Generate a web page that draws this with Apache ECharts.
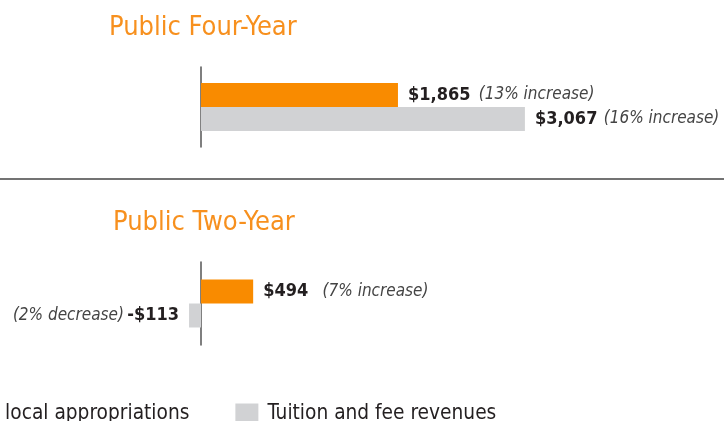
<!DOCTYPE html>
<html>
<head>
<meta charset="utf-8">
<script src="https://cdn.jsdelivr.net/npm/echarts@6/dist/echarts.min.js"></script>
<style>
  html, body { margin: 0; padding: 0; background: #fff; }
  #chart { width: 724px; height: 421px; }
</style>
</head>
<body>
<div id="chart"></div>
<script>
// Change in revenue per student, by sector
const panels = ['Public Four-Year', 'Public Two-Year'];
const seriesNames = ['State and local appropriations', 'Tuition and fee revenues'];
const appropriations = [1865, 494];
const tuition = [3067, -113];
const appropriationNotes = ['(13% increase)', '(7% increase)'];
const tuitionNotes = ['(16% increase)', '(2% decrease)'];

const FONT = '"DejaVu Sans Condensed", "DejaVu Sans", sans-serif';
const ORANGE = '#F98B00';
const GRAY = '#D1D2D4';
const TITLE_ORANGE = '#F7901E';
const TEXT = '#231F20';

// shared dollar scale for both panels, zero sits at x = 201
const X_MIN = -1903, X_MAX = 4952;

// extra space between the dollar figure and its note, per panel [appropriations, tuition]
const noteGap = [[5, 3], [11, 0]];

function money(v) {
  const s = '$' + Math.abs(v).toLocaleString('en-US');
  return v < 0 ? '-' + s : s;
}

function barLabel(value, note, gap) {
  const neg = value < 0;
  return {
    show: true,
    distance: 10,
    position: neg ? 'left' : 'right',
    rich: {
      v: { fontFamily: FONT, fontSize: 18, fontWeight: 'bold', color: TEXT },
      n: { fontFamily: FONT, fontSize: 17, fontStyle: 'italic', color: '#444',
           padding: neg ? [0, gap, 0, 0] : [0, 0, 0, gap] }
    },
    formatter: (q) => q.value < 0
      ? '{n|' + note + '} {v|' + money(q.value) + '}'
      : '{v|' + money(q.value) + '} {n|' + note + '}'
  };
}

const grids = [
  { left: 0, right: 0, top: 67, height: 80 },
  { left: 0, right: 0, top: 262, height: 83 }
];

const xAxes = grids.map((g, i) => ({
  type: 'value', gridIndex: i, min: X_MIN, max: X_MAX, show: false
}));
const yAxes = grids.map((g, i) => ({
  type: 'category', gridIndex: i, data: [panels[i]], inverse: true,
  axisLine: { show: true, onZero: true, lineStyle: { color: '#555', width: 1.5 } },
  axisTick: { show: false }, axisLabel: { show: false }, splitLine: { show: false }
}));

const series = [];
panels.forEach((p, i) => {
  series.push({
    name: seriesNames[0], type: 'bar', xAxisIndex: i, yAxisIndex: i,
    data: [appropriations[i]], barWidth: 24, barGap: '0%',
    itemStyle: { color: ORANGE },
    label: barLabel(appropriations[i], appropriationNotes[i], noteGap[i][0])
  });
  series.push({
    name: seriesNames[1], type: 'bar', xAxisIndex: i, yAxisIndex: i,
    data: [tuition[i]], barWidth: 24, barGap: '0%',
    itemStyle: { color: GRAY },
    label: barLabel(tuition[i], tuitionNotes[i], noteGap[i][1])
  });
});

const titleStyle = { fontFamily: FONT, fontSize: 27, fontWeight: 'normal', color: TITLE_ORANGE };

const chart = echarts.init(document.getElementById('chart'), null, { renderer: 'canvas' });
chart.setOption({
  animation: false,
  backgroundColor: '#fff',
  title: [
    { text: panels[0], left: 104, top: 9, textStyle: titleStyle },
    { text: panels[1], left: 108, top: 204, textStyle: titleStyle }
  ],
  legend: {
    data: seriesNames,
    left: -128, top: 398,
    itemWidth: 23, itemHeight: 20, itemGap: 46,
    icon: 'rect',
    textStyle: { fontFamily: FONT, fontSize: 20.7, color: TEXT, padding: [0, 0, 12, 4] },
    selectedMode: false
  },
  grid: grids,
  xAxis: xAxes,
  yAxis: yAxes,
  series: series,
  graphic: [{
    type: 'line', silent: true,
    shape: { x1: 0, y1: 179, x2: 724, y2: 179 },
    style: { stroke: '#444', lineWidth: 1.5 }
  }]
});
</script>
</body>
</html>
